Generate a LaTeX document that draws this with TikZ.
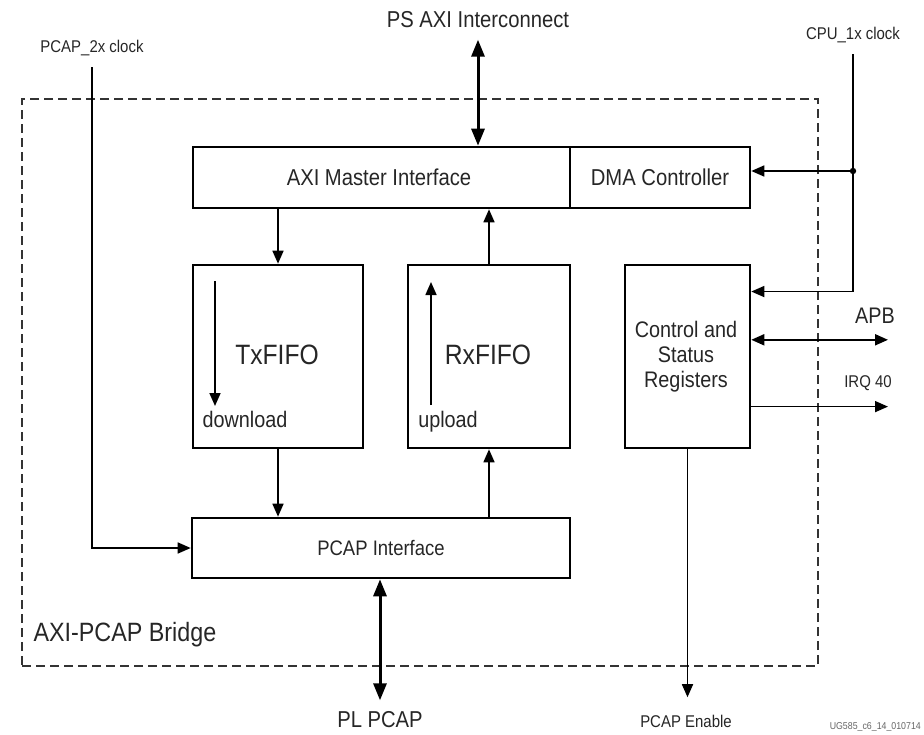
\documentclass[tikz,border=0pt]{standalone}
\usepackage{fontspec}
\setmainfont{Liberation Sans}[FakeStretch=0.88]
\usetikzlibrary{arrows.meta, positioning, calc}

\tikzset{
	blk/.style={draw, line width=2.6pt, inner sep=0pt, font=\fontsize{23}{25}\selectfont},
	bridgebox/.style={draw=black!80, line width=1.8pt, dash pattern=on 9pt off 5pt, inner sep=0pt},
	wire/.style={line width=1.6pt},
	bus/.style={line width=3pt, >={Triangle[length=17pt,width=13pt]}},
	small/.style={font=\fontsize{17}{19}\selectfont},
	mid/.style={font=\fontsize{23}{26}\selectfont}
}

\begin{document}
\begin{tikzpicture}[x=1pt, y=-1pt, >={Triangle[length=13pt,width=11pt]}, every node/.style={text=black!85}]
	\useasboundingbox (0,0) rectangle (924,734);
	% bridge outline
	\node[bridgebox, minimum width=796pt, minimum height=567pt] (bridge) at (420,382.5) {};
	\node[anchor=west, font=\fontsize{26.5}{28}\selectfont] (bridgelbl) at (30,635) {AXI-PCAP Bridge};

	% blocks
	\node[blk, minimum width=377pt, minimum height=61pt] (axi) at (381.5,177.5) {};
	\node[blk, minimum width=180pt, minimum height=61pt] (dma) at (660,177.5) {DMA Controller};
	\node[font=\fontsize{23}{25}\selectfont] (axilbl) at (379,177) {AXI Master Interface};
	\node[blk, minimum width=170pt, minimum height=183pt] (tx) at (278,356.5) {};
	\node[blk, minimum width=162pt, minimum height=183pt] (rx) at (489,356.5) {};
	\node[blk, minimum width=125pt, minimum height=183pt] (csr) at (687.5,356.5) {};
	\node[blk, minimum width=378pt, minimum height=60pt, font=\fontsize{21}{23}\selectfont] (pcap) at (381,548) {PCAP Interface};

	% texts inside the FIFOs and registers
	\node[font=\fontsize{28}{30}\selectfont] (txlbl) at (277,355) {TxFIFO};
	\node[font=\fontsize{28}{30}\selectfont] (rxlbl) at (488,355) {RxFIFO};
	\node[anchor=base, font=\fontsize{22.5}{24}\selectfont] (dl) at (245,427) {download};
	\node[anchor=base, font=\fontsize{22.5}{24}\selectfont] (ul) at (448,427) {upload};
	\node[align=center, font=\fontsize{22.5}{25}\selectfont] (csrlbl) at (686,357) {Control and\\Status\\Registers};
	\coordinate (txa1) at (215,281);
	\coordinate (txa2) at (215,406);
	\coordinate (rxa1) at (431,405);
	\coordinate (rxa2) at (431,282);
	\draw[wire, ->] (txa1) -- (txa2);
	\draw[wire, ->] (rxa1) -- (rxa2);

	% outside labels
	\node[mid] (psaxi) at (478,20) {PS AXI Interconnect};
	\node[mid] (plpcap) at (380,720) {PL PCAP};
	\node[small] (p2x) at (92,48) {PCAP\_2x clock};
	\node[small] (cpu) at (853,35) {CPU\_1x clock};
	\node[small] (pen) at (686,721) {PCAP Enable};
	\node[font=\fontsize{22.5}{24}\selectfont] (apb) at (875,316) {APB};
	\node[small] (irq) at (868,383) {IRQ 40};
	\node[anchor=east, text=black!60, font=\fontsize{10}{11}\selectfont, inner sep=1pt] (ugnum) at (922,727) {UG585\_c6\_14\_010714};

	% data paths
	\draw[wire, ->] (tx.north |- axi.south) -- (tx.north);
	\draw[wire, ->] (rx.north) -- (rx.north |- axi.south);
	\draw[wire, ->] (tx.south) -- (tx.south |- pcap.north);
	\draw[wire, ->] (rx.south |- pcap.north) -- (rx.south);
	\draw[bus, <->, shorten <=8pt] (psaxi.south) -- (psaxi.south |- axi.north);
	\draw[bus, <->, shorten >=8pt] (pcap.south -| plpcap.north) -- (plpcap.north);

	% clocks
	\draw[wire, ->, shorten <=8pt] (p2x.south) |- (pcap.west);
	\coordinate (csrclk) at ($(csr.north east)!0.15!(csr.south east)$);
	\coordinate (tap) at (cpu.south |- 0,171);
	\draw[wire, ->, shorten <=8pt] (cpu.south) |- (csrclk);
	\draw[wire, ->] (tap) -- (tap -| dma.east);
	\fill (tap) circle (3.2pt);

	% register side signals
	\coordinate (apbl) at ($(csr.north east)!0.41!(csr.south east)$);
	\coordinate (apbr) at (888,0 |- apbl);
	\coordinate (irql) at ($(csr.north east)!0.77!(csr.south east)$);
	\coordinate (irqr) at (888,0 |- irql);
	\draw[wire, line width=2pt, <->] (apbl) -- (apbr);
	\draw[wire, ->] (irql) -- (irqr);
	\draw[wire, ->, shorten >=14pt] (csr.south) -- (csr.south |- pen.north);
\end{tikzpicture}
\end{document}
